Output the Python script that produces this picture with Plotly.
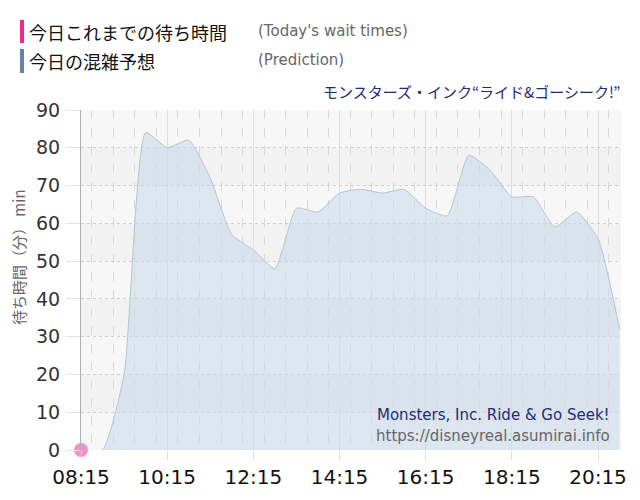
import plotly.graph_objects as go

# 30-minute slots of the prediction
times = ["08:15", "08:45", "09:15", "09:45", "10:15", "10:45", "11:15", "11:45",
         "12:15", "12:45", "13:15", "13:45", "14:15", "14:45", "15:15", "15:45",
         "16:15", "16:45", "17:15", "17:45", "18:15", "18:45", "19:15", "19:45",
         "20:15", "20:45"]
prediction = [0, 0, 20, 84, 80, 82, 72, 57, 53, 48, 64, 63, 68, 69, 68, 69,
              64, 62, 78, 74, 67, 67, 59, 63, 56, 32]

today_times = ["08:15"]
today_waits = [0]

y_ticks = list(range(0, 100, 10))

day = "2024-01-01 "
x_pred = [day + t for t in times]
x_today = [day + t for t in today_times]

jp = "Noto Sans CJK JP"
num = "DejaVu Sans"

# plot box in pixels: left 81, right 621, top 110, bottom 450
PW, PH = 540, 340


def px_x(x):
    return (x - 81) / PW


def px_y(y):
    return (450 - y) / PH


fig = go.Figure()
fig.add_trace(go.Scatter(
    x=x_pred, y=prediction, mode="lines",
    line=dict(color="#b7c4d3", width=1, shape="spline", smoothing=0.5),
    fill="tozeroy", fillcolor="rgba(203,217,231,0.6)",
    hoverinfo="x+y", showlegend=False))
fig.add_trace(go.Scatter(
    x=x_today, y=today_waits, mode="markers",
    marker=dict(color="#f490c8", size=14),
    cliponaxis=False, showlegend=False))

fig.update_layout(
    width=640, height=500,
    margin=dict(l=81, r=19, t=110, b=50, autoexpand=False),
    paper_bgcolor="white", plot_bgcolor="#f7f7f7",
    font=dict(family=num, color="#333"),
    xaxis=dict(
        type="date", range=[day + "08:15", day + "20:47"],
        tick0=day + "08:15", dtick=2 * 3600 * 1000, tickformat="%H:%M",
        tickfont=dict(size=20, color="#111", family=num),
        showgrid=True, gridcolor="#dedede", gridwidth=1,
        ticks="outside", ticklen=9, tickcolor="#dedede",
        minor=dict(dtick=30 * 60 * 1000, showgrid=True, gridcolor="#d9d9d9",
                   griddash="dash", gridwidth=1),
        showline=False, zeroline=False, fixedrange=True, automargin=False),
    yaxis=dict(
        range=[0, 90], tickvals=y_ticks,
        tickfont=dict(size=19, color="#333", family=num),
        showgrid=True, gridcolor="#cfcfcf", griddash="dot",
        showline=True, linecolor="#aab0b8", linewidth=1,
        zeroline=False, ticks="outside", ticklen=14, tickcolor="#e2e2e2",
        ticklabelstandoff=2,
        fixedrange=True, automargin=False),
)

# alternating horizontal bands behind the grid
for lo, hi in zip(y_ticks[1::2], y_ticks[2::2]):
    fig.add_shape(type="rect", xref="paper", yref="y", x0=0, x1=1, y0=lo, y1=hi,
                  fillcolor="#f1f2f1", line=dict(width=0), layer="below")

# y axis title
fig.add_annotation(text="待ち時間（分） min", xref="paper", yref="paper",
                   x=px_x(18), y=px_y(257), xanchor="center", yanchor="middle",
                   textangle=-90, showarrow=False,
                   font=dict(family=jp, size=15, color="#666"))

# legend block at top left
fig.add_shape(type="rect", xref="paper", yref="paper", x0=px_x(20), x1=px_x(24),
              y0=px_y(43), y1=px_y(20), fillcolor="#f0288c",
              line=dict(width=0), layer="above")
fig.add_shape(type="rect", xref="paper", yref="paper", x0=px_x(20), x1=px_x(24),
              y0=px_y(73), y1=px_y(49), fillcolor="#6a80a8",
              line=dict(width=0), layer="above")
fig.add_annotation(text="今日これまでの待ち時間", xref="paper", yref="paper",
                   x=px_x(27), y=px_y(32), xanchor="left", yanchor="middle",
                   showarrow=False, font=dict(family=jp, size=18, color="#111"))
fig.add_annotation(text="(Today's wait times)", xref="paper", yref="paper",
                   x=px_x(256), y=px_y(31), xanchor="left", yanchor="middle",
                   showarrow=False, font=dict(family=num, size=15, color="#666"))
fig.add_annotation(text="今日の混雑予想", xref="paper", yref="paper",
                   x=px_x(27), y=px_y(61), xanchor="left", yanchor="middle",
                   showarrow=False, font=dict(family=jp, size=18, color="#111"))
fig.add_annotation(text="(Prediction)", xref="paper", yref="paper",
                   x=px_x(256), y=px_y(60), xanchor="left", yanchor="middle",
                   showarrow=False, font=dict(family=num, size=15, color="#666"))

# attraction name
fig.add_annotation(text="モンスターズ・インク“ライド&ゴーシーク!”", xref="paper", yref="paper",
                   x=px_x(622), y=px_y(91), xanchor="right", yanchor="middle",
                   showarrow=False, font=dict(family=jp, size=15, color="#1f2a78"))

# watermark
fig.add_annotation(text="Monsters, Inc. Ride & Go Seek!", xref="paper", yref="paper",
                   x=px_x(612), y=px_y(415), xanchor="right", yanchor="middle",
                   showarrow=False, font=dict(family=num, size=15, color="#1f2a78"))
fig.add_annotation(text="https://disneyreal.asumirai.info", xref="paper", yref="paper",
                   x=px_x(612), y=px_y(436), xanchor="right", yanchor="middle",
                   showarrow=False, font=dict(family=num, size=15, color="#666"))

fig.write_html("out.html", config={"displayModeBar": False},
               post_script="document.body.style.margin='0';")
